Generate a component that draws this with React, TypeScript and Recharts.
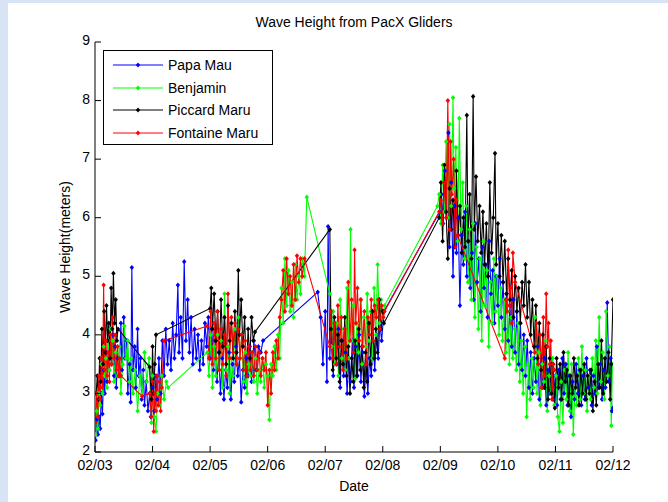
import { LineChart, Line, XAxis, YAxis } from "recharts";

// day offsets from 02/03 and wave height (m) for each glider
const dateLabels = ["02/03", "02/04", "02/05", "02/06", "02/07", "02/08", "02/09", "02/10", "02/11", "02/12"];
const heightTicks = [2, 3, 4, 5, 6, 7, 8, 9];

const papaMau: [number, number][] = [
  [0.01, 2.2], [0.03, 2.55], [0.05, 2.3], [0.07, 2.6], [0.09, 2.4], [0.11, 3.0], [0.13, 2.65], [0.15, 3.4], [0.17, 3.0], [0.19, 3.7],
  [0.21, 3.2], [0.23, 3.9], [0.25, 3.4], [0.27, 4.1], [0.29, 3.5], [0.31, 4.0], [0.33, 3.3], [0.35, 3.8], [0.37, 3.1], [0.39, 3.6],
  [0.42, 3.3], [0.45, 4.2], [0.47, 3.4], [0.5, 4.3], [0.52, 3.6], [0.55, 3.9], [0.57, 3.0], [0.6, 3.5], [0.62, 2.85], [0.64, 5.15],
  [0.66, 3.4], [0.69, 3.8], [0.71, 3.1], [0.74, 4.1], [0.76, 3.3], [0.79, 3.6], [0.81, 2.9], [0.84, 3.4], [0.86, 2.8], [0.89, 3.2],
  [0.92, 2.7], [0.95, 3.0], [0.97, 2.6], [1.0, 3.1], [1.03, 2.7], [1.06, 3.3], [1.08, 2.9], [1.11, 3.6], [1.14, 3.0], [1.17, 3.9],
  [1.2, 3.3], [1.23, 4.1], [1.26, 3.5], [1.29, 3.9], [1.32, 3.4], [1.35, 4.2], [1.38, 3.6], [1.41, 4.0], [1.44, 4.85], [1.46, 3.7],
  [1.49, 4.3], [1.52, 3.6], [1.55, 5.25], [1.58, 3.9], [1.61, 4.6], [1.64, 3.7], [1.67, 4.3], [1.7, 3.5], [1.73, 4.1], [1.76, 3.6],
  [1.79, 4.0], [1.82, 3.4], [1.85, 3.9], [1.88, 3.5], [1.91, 4.2], [1.94, 3.8], [1.97, 4.3], [2.0, 3.6], [2.03, 4.1], [2.06, 3.4],
  [2.09, 3.9], [2.12, 3.2], [2.15, 3.7], [2.18, 3.0], [2.21, 3.6], [2.24, 2.9], [2.27, 3.4], [2.3, 3.1], [2.33, 3.7], [2.36, 2.9],
  [2.39, 3.5], [2.42, 3.2], [2.45, 3.8], [2.48, 3.3], [2.51, 3.6], [2.54, 2.85], [2.57, 3.4], [2.6, 3.1], [2.63, 3.6], [2.66, 3.3],
  [2.69, 3.8], [2.72, 3.2], [2.76, 3.9], [2.8, 3.4], [2.84, 3.8], [2.88, 3.7], [2.92, 3.9], [3.87, 4.73], [3.92, 4.3], [3.96, 3.5],
  [4.0, 4.4], [4.03, 3.2], [4.05, 5.85], [4.08, 3.6], [4.11, 4.4], [4.14, 3.3], [4.17, 4.2], [4.2, 3.5], [4.23, 4.1], [4.26, 3.1],
  [4.29, 3.9], [4.32, 3.3], [4.35, 3.7], [4.38, 3.0], [4.41, 3.6], [4.44, 3.2], [4.47, 3.9], [4.5, 3.1], [4.53, 3.8], [4.56, 3.3],
  [4.59, 4.0], [4.62, 3.2], [4.65, 3.7], [4.68, 2.95], [4.71, 3.5], [4.74, 3.0], [4.77, 3.6], [4.8, 3.3], [4.83, 3.9], [4.86, 3.4],
  [4.89, 4.0], [4.92, 3.6], [4.95, 4.2], [4.98, 3.9], [5.02, 4.4], [5.99, 6.1], [6.02, 6.4], [6.05, 5.9], [6.08, 6.8], [6.11, 6.0],
  [6.14, 7.45], [6.16, 5.5], [6.19, 6.6], [6.22, 5.0], [6.25, 6.2], [6.28, 5.4], [6.31, 6.0], [6.34, 4.5], [6.37, 5.7], [6.4, 5.2],
  [6.43, 6.1], [6.46, 5.0], [6.49, 5.6], [6.52, 4.8], [6.55, 5.4], [6.58, 4.6], [6.61, 5.9], [6.64, 4.9], [6.67, 5.3], [6.7, 4.4],
  [6.73, 5.5], [6.76, 4.8], [6.79, 5.2], [6.82, 4.3], [6.85, 5.6], [6.88, 4.7], [6.91, 5.1], [6.94, 4.2], [6.97, 5.0], [7.0, 4.5],
  [7.03, 5.3], [7.06, 4.3], [7.09, 4.9], [7.12, 4.1], [7.15, 4.7], [7.18, 3.9], [7.21, 4.5], [7.24, 3.8], [7.27, 4.6], [7.3, 3.7],
  [7.33, 4.4], [7.36, 3.5], [7.39, 4.2], [7.42, 3.4], [7.45, 4.0], [7.48, 3.3], [7.51, 3.9], [7.54, 3.1], [7.57, 3.7], [7.6, 3.0],
  [7.63, 3.6], [7.66, 3.2], [7.69, 3.8], [7.72, 2.9], [7.75, 3.5], [7.78, 3.1], [7.81, 3.6], [7.84, 2.8], [7.87, 3.4], [7.9, 3.0],
  [7.93, 3.5], [7.96, 2.9], [8.0, 3.3], [8.03, 2.8], [8.06, 3.4], [8.09, 2.9], [8.12, 3.6], [8.15, 3.0], [8.18, 3.5], [8.21, 2.8],
  [8.24, 3.3], [8.27, 2.6], [8.3, 3.2], [8.33, 2.9], [8.36, 3.5], [8.39, 3.0], [8.42, 3.4], [8.45, 2.8], [8.48, 3.3], [8.51, 2.9],
  [8.54, 3.6], [8.57, 3.1], [8.6, 3.4], [8.63, 2.8], [8.66, 3.3], [8.69, 3.0], [8.72, 3.8], [8.75, 3.1], [8.78, 3.5], [8.81, 2.9],
  [8.84, 3.4], [8.87, 3.1], [8.9, 4.55], [8.93, 3.2], [8.96, 3.6], [8.98, 2.7], [9.0, 2.75],
];

const benjamin: [number, number][] = [
  [0.01, 2.3], [0.03, 2.7], [0.05, 2.4], [0.07, 3.0], [0.09, 2.8], [0.11, 3.5], [0.13, 3.0], [0.15, 3.8], [0.17, 3.3], [0.19, 3.6],
  [0.21, 3.1], [0.23, 3.9], [0.25, 3.4], [0.27, 4.1], [0.29, 3.5], [0.31, 3.9], [0.33, 3.2], [0.36, 3.7], [0.39, 3.3], [0.42, 3.8],
  [0.45, 3.0], [0.48, 3.5], [0.51, 4.15], [0.54, 3.6], [0.57, 3.9], [0.6, 3.2], [0.63, 3.6], [0.66, 3.0], [0.7, 3.4], [0.74, 2.7],
  [0.78, 3.3], [0.82, 3.0], [0.86, 3.7], [0.9, 3.2], [0.94, 3.6], [0.98, 2.5], [1.0, 3.3], [1.03, 2.6], [1.06, 2.35], [1.09, 3.0],
  [1.12, 2.8], [1.16, 3.3], [1.2, 2.9], [1.24, 3.2], [1.27, 3.1], [1.95, 3.7], [1.98, 3.3], [2.01, 4.0], [2.04, 3.1], [2.07, 3.8],
  [2.1, 3.3], [2.13, 4.0], [2.16, 3.4], [2.19, 3.9], [2.22, 3.1], [2.25, 4.7], [2.28, 3.4], [2.31, 3.8], [2.34, 3.0], [2.37, 3.6],
  [2.4, 3.3], [2.43, 4.1], [2.46, 3.5], [2.49, 4.3], [2.52, 3.6], [2.55, 4.0], [2.58, 3.2], [2.61, 3.7], [2.64, 3.0], [2.67, 3.5],
  [2.7, 3.3], [2.73, 3.7], [2.76, 3.2], [2.79, 3.6], [2.82, 3.0], [2.85, 3.4], [2.88, 3.2], [2.91, 3.6], [2.94, 3.1], [2.97, 3.5],
  [3.0, 3.3], [3.03, 2.55], [3.06, 3.5], [3.09, 3.3], [3.12, 3.8], [3.15, 3.4], [3.18, 4.0], [3.21, 3.6], [3.24, 4.8], [3.27, 4.2],
  [3.3, 5.3], [3.33, 4.5], [3.36, 5.1], [3.39, 4.4], [3.42, 4.9], [3.45, 4.3], [3.48, 5.2], [3.51, 4.6], [3.54, 5.0], [3.57, 4.7],
  [3.6, 5.3], [3.64, 5.0], [3.68, 6.35], [4.08, 4.7], [4.11, 3.8], [4.14, 4.4], [4.17, 3.5], [4.2, 4.2], [4.23, 3.3], [4.26, 4.6],
  [4.29, 3.6], [4.32, 4.1], [4.35, 3.4], [4.38, 4.8], [4.41, 3.6], [4.44, 5.8], [4.46, 3.9], [4.49, 4.5], [4.52, 3.25], [4.55, 4.2],
  [4.58, 3.7], [4.61, 4.6], [4.64, 3.5], [4.67, 4.3], [4.7, 3.8], [4.73, 4.7], [4.76, 3.9], [4.79, 4.4], [4.82, 3.6], [4.85, 4.8],
  [4.88, 4.0], [4.91, 5.2], [4.94, 4.2], [4.97, 4.6], [5.0, 4.3], [5.03, 4.5], [5.95, 6.2], [5.98, 6.4], [6.01, 5.9], [6.04, 6.9],
  [6.07, 6.1], [6.1, 7.3], [6.13, 6.0], [6.16, 7.6], [6.19, 6.2], [6.22, 8.05], [6.24, 6.5], [6.27, 7.2], [6.3, 5.6], [6.33, 7.7],
  [6.36, 5.8], [6.39, 6.6], [6.42, 5.3], [6.45, 6.2], [6.48, 4.9], [6.51, 5.8], [6.54, 4.6], [6.57, 5.9], [6.6, 4.3], [6.63, 5.5],
  [6.66, 4.1], [6.69, 5.3], [6.72, 3.9], [6.75, 5.6], [6.78, 4.5], [6.81, 5.1], [6.84, 3.8], [6.87, 4.9], [6.9, 4.2], [6.93, 5.3],
  [6.96, 4.4], [6.99, 5.0], [7.02, 4.0], [7.05, 4.8], [7.08, 3.9], [7.11, 4.6], [7.14, 3.7], [7.17, 4.4], [7.2, 3.5], [7.23, 4.3],
  [7.26, 3.6], [7.29, 4.1], [7.32, 3.4], [7.35, 4.2], [7.38, 3.2], [7.41, 3.9], [7.44, 3.0], [7.47, 3.8], [7.5, 2.6], [7.53, 3.5],
  [7.56, 2.9], [7.59, 3.6], [7.62, 3.1], [7.65, 4.3], [7.68, 3.0], [7.71, 3.7], [7.74, 2.8], [7.77, 3.5], [7.8, 3.2], [7.83, 3.9],
  [7.86, 2.7], [7.89, 3.3], [7.92, 3.0], [7.95, 3.6], [7.98, 2.8], [8.01, 3.3], [8.04, 2.6], [8.07, 2.35], [8.1, 3.2], [8.13, 2.5],
  [8.16, 3.4], [8.19, 2.9], [8.22, 3.7], [8.25, 2.7], [8.28, 3.5], [8.31, 2.3], [8.34, 3.1], [8.37, 2.8], [8.4, 3.6], [8.43, 2.9],
  [8.46, 3.8], [8.49, 3.0], [8.52, 3.4], [8.55, 2.7], [8.58, 3.3], [8.61, 2.9], [8.64, 3.6], [8.67, 3.1], [8.7, 3.9], [8.73, 3.0],
  [8.76, 4.3], [8.79, 3.2], [8.82, 3.7], [8.85, 2.9], [8.88, 4.4], [8.91, 3.3], [8.94, 3.8], [8.97, 2.45], [8.99, 3.5],
];

const piccardMaru: [number, number][] = [
  [0.02, 3.0], [0.04, 3.3], [0.06, 2.9], [0.08, 3.6], [0.1, 3.2], [0.12, 4.1], [0.14, 3.5], [0.16, 4.4], [0.18, 3.7], [0.2, 4.5],
  [0.22, 3.9], [0.24, 4.2], [0.26, 3.6], [0.28, 4.8], [0.3, 4.1], [0.32, 5.05], [0.34, 4.2], [0.36, 4.6], [0.38, 3.9], [0.4, 4.1],
  [0.95, 3.45], [0.98, 2.9], [1.0, 3.8], [1.02, 3.0], [1.04, 3.5], [1.06, 4.0], [2.0, 4.45], [2.02, 4.8], [2.04, 4.1], [2.07, 4.7],
  [2.1, 3.9], [2.13, 4.4], [2.16, 3.7], [2.19, 4.6], [2.22, 3.8], [2.25, 4.3], [2.28, 3.5], [2.31, 4.5], [2.34, 3.9], [2.37, 4.2],
  [2.4, 3.6], [2.43, 4.4], [2.46, 3.7], [2.49, 5.1], [2.51, 4.0], [2.54, 4.6], [2.57, 3.8], [2.6, 4.3], [2.63, 3.3], [2.66, 4.1],
  [2.69, 3.6], [2.72, 4.3], [2.75, 3.9], [2.78, 4.05], [4.08, 5.8], [4.1, 4.1], [4.13, 3.4], [4.16, 4.3], [4.19, 3.6], [4.22, 4.0],
  [4.25, 3.2], [4.28, 3.9], [4.31, 3.5], [4.34, 4.3], [4.37, 3.3], [4.4, 3.8], [4.43, 3.0], [4.46, 3.6], [4.49, 3.2], [4.52, 3.9],
  [4.55, 3.3], [4.58, 4.1], [4.61, 3.4], [4.64, 3.8], [4.67, 3.1], [4.7, 3.7], [4.73, 3.2], [4.76, 4.2], [4.79, 3.5], [4.82, 4.4],
  [4.85, 3.6], [4.88, 4.1], [4.91, 3.7], [4.94, 4.6], [4.97, 4.1], [5.0, 4.4], [5.02, 4.2], [5.98, 6.0], [6.01, 6.6], [6.04, 5.6],
  [6.07, 6.9], [6.1, 6.1], [6.13, 5.3], [6.16, 6.5], [6.19, 5.8], [6.22, 6.3], [6.25, 5.5], [6.28, 6.8], [6.31, 5.7], [6.34, 6.2],
  [6.37, 5.4], [6.4, 6.0], [6.43, 5.5], [6.46, 7.75], [6.48, 5.6], [6.51, 6.4], [6.54, 5.3], [6.57, 8.07], [6.59, 5.8], [6.62, 6.7],
  [6.65, 5.6], [6.68, 6.2], [6.71, 5.4], [6.74, 6.1], [6.77, 5.2], [6.8, 5.9], [6.83, 5.0], [6.86, 6.6], [6.89, 5.4], [6.92, 6.0],
  [6.95, 7.1], [6.97, 5.2], [7.0, 5.9], [7.03, 5.0], [7.06, 5.7], [7.09, 4.9], [7.12, 5.6], [7.15, 4.7], [7.18, 5.3], [7.21, 4.6],
  [7.24, 5.1], [7.27, 4.3], [7.3, 5.0], [7.33, 4.4], [7.36, 4.8], [7.39, 4.2], [7.42, 4.9], [7.45, 4.5], [7.48, 5.2], [7.51, 4.3],
  [7.54, 4.9], [7.57, 4.0], [7.6, 4.6], [7.63, 3.8], [7.66, 4.5], [7.69, 3.6], [7.72, 4.2], [7.75, 3.4], [7.78, 4.0], [7.81, 3.1],
  [7.84, 3.8], [7.87, 2.9], [7.9, 3.6], [7.93, 3.0], [7.96, 3.5], [7.99, 2.75], [8.02, 3.6], [8.05, 3.1], [8.08, 3.5], [8.11, 2.9],
  [8.14, 3.7], [8.17, 3.2], [8.2, 3.4], [8.23, 2.8], [8.26, 3.3], [8.29, 3.0], [8.32, 3.6], [8.35, 3.1], [8.38, 3.3], [8.41, 2.8],
  [8.44, 3.4], [8.47, 3.0], [8.5, 3.5], [8.53, 2.9], [8.56, 3.3], [8.59, 3.0], [8.62, 3.4], [8.65, 2.7], [8.68, 3.2], [8.71, 2.8],
  [8.74, 3.5], [8.77, 3.1], [8.8, 3.9], [8.83, 3.0], [8.86, 3.6], [8.89, 3.2], [8.92, 3.7], [8.95, 2.9], [8.97, 3.5], [9.0, 4.6],
];

const fontaineMaru: [number, number][] = [
  [0.01, 2.5], [0.03, 3.0], [0.05, 2.6], [0.07, 3.3], [0.09, 2.9], [0.11, 3.6], [0.13, 3.1], [0.15, 4.85], [0.17, 3.4], [0.19, 3.9],
  [0.21, 3.3], [0.23, 3.7], [0.25, 3.2], [0.27, 4.0], [0.29, 3.5], [0.31, 4.3], [0.33, 3.6], [0.35, 4.0], [0.37, 3.4], [0.39, 3.8],
  [0.41, 3.3], [0.43, 3.6], [0.45, 3.3], [0.82, 2.95], [0.95, 3.0], [0.98, 2.6], [1.0, 3.2], [1.02, 2.35], [1.04, 3.0], [1.06, 2.7],
  [1.08, 3.3], [1.1, 2.8], [1.12, 3.2], [1.14, 2.7], [1.16, 3.1], [1.2, 3.9], [1.95, 4.15], [1.98, 3.6], [2.01, 4.4], [2.04, 3.5],
  [2.07, 4.2], [2.1, 3.6], [2.13, 4.4], [2.16, 3.4], [2.19, 4.1], [2.22, 3.5], [2.25, 4.0], [2.28, 3.3], [2.31, 4.7], [2.34, 3.6],
  [2.37, 4.3], [2.4, 3.7], [2.43, 4.2], [2.46, 3.5], [2.49, 4.1], [2.52, 3.6], [2.55, 4.0], [2.58, 3.4], [2.61, 3.9], [2.64, 3.3],
  [2.67, 3.8], [2.7, 3.4], [2.73, 3.7], [2.76, 3.3], [2.79, 3.8], [2.82, 3.4], [2.85, 3.7], [2.88, 3.3], [2.91, 3.6], [2.94, 3.4],
  [2.97, 3.7], [3.0, 2.8], [3.03, 3.4], [3.06, 3.0], [3.09, 3.7], [3.12, 3.4], [3.15, 3.9], [3.18, 3.6], [3.21, 4.3], [3.24, 4.6],
  [3.27, 5.1], [3.3, 4.4], [3.33, 5.3], [3.36, 4.7], [3.39, 5.0], [3.42, 4.5], [3.45, 5.2], [3.48, 4.6], [3.51, 5.35], [3.54, 4.9],
  [3.57, 5.3], [3.6, 5.0], [3.64, 5.3], [4.08, 3.8], [4.1, 4.4], [4.13, 3.6], [4.16, 4.2], [4.19, 3.5], [4.22, 4.5], [4.25, 3.8],
  [4.28, 4.3], [4.31, 3.4], [4.34, 4.1], [4.37, 3.6], [4.4, 4.9], [4.43, 3.9], [4.46, 4.6], [4.49, 3.7], [4.51, 5.45], [4.53, 4.2],
  [4.56, 4.8], [4.59, 3.9], [4.62, 4.6], [4.65, 3.8], [4.68, 4.4], [4.71, 3.5], [4.74, 4.3], [4.77, 4.0], [4.8, 4.6], [4.83, 3.9],
  [4.86, 4.5], [4.89, 4.3], [4.92, 4.6], [4.95, 4.1], [4.98, 4.5], [5.01, 4.3], [5.03, 4.4], [5.98, 6.1], [6.01, 6.3], [6.04, 5.9],
  [6.07, 6.6], [6.1, 6.0], [6.13, 8.0], [6.16, 5.8], [6.18, 7.3], [6.2, 6.4], [6.23, 7.0], [6.26, 5.5], [6.28, 6.3], [6.3, 5.7],
  [7.12, 3.6], [7.14, 4.6], [7.16, 4.4], [7.18, 5.45], [7.2, 4.5], [7.22, 4.8], [7.24, 4.2], [7.26, 5.4], [7.3, 4.9], [7.64, 3.7],
  [7.67, 4.2], [7.7, 3.5], [7.73, 4.0], [7.76, 3.1], [7.79, 4.3], [7.81, 3.3], [7.84, 4.7], [7.86, 3.8], [7.88, 4.2], [7.9, 3.5],
  [7.92, 3.9], [7.94, 2.9], [7.96, 3.5], [7.98, 3.4],
];

const series = [
  { name: "Papa Mau", color: "#0000ff", pairs: papaMau },
  { name: "Benjamin", color: "#00ff00", pairs: benjamin },
  { name: "Piccard Maru", color: "#000000", pairs: piccardMaru },
  { name: "Fontaine Maru", color: "#ff0000", pairs: fontaineMaru },
];

const toPoints = (pairs: [number, number][]) => pairs.map(([d, h]) => ({ d, h }));

const FONT = "'Liberation Sans', Arial, sans-serif";
const PLOT_LEFT = 95;
const PLOT_BOTTOM = 452;

// matlab style ticks: short marks pointing into the axes
const XTick = (props: any) => {
  const { x, payload } = props;
  return (
    <g>
      <line x1={x} x2={x} y1={PLOT_BOTTOM} y2={PLOT_BOTTOM - 6} stroke="#000" />
      <text x={x} y={PLOT_BOTTOM + 18} textAnchor="middle" fontSize={14} fontFamily={FONT} fill="#000">
        {dateLabels[payload.value]}
      </text>
    </g>
  );
};

const YTick = (props: any) => {
  const { y, payload } = props;
  return (
    <g>
      <line x1={PLOT_LEFT} x2={PLOT_LEFT + 6} y1={y} y2={y} stroke="#000" />
      <text x={PLOT_LEFT - 5} y={y + 3} textAnchor="end" fontSize={14} fontFamily={FONT} fill="#000">
        {payload.value}
      </text>
    </g>
  );
};

// small diamond marker, like matlab's 'd' marker
const Diamond = (props: any) => {
  const { cx, cy, stroke } = props;
  if (cx == null || cy == null) return null;
  return <path d={`M${cx},${cy - 2.6}L${cx + 2.2},${cy}L${cx},${cy + 2.6}L${cx - 2.2},${cy}Z`} fill={stroke} />;
};

const LegendBox = () => (
  <div
    style={{
      position: "absolute",
      left: 103,
      top: 50,
      width: 170,
      height: 95,
      border: "1px solid #000",
      background: "#fff",
      fontFamily: FONT,
      fontSize: 14,
      paddingTop: 3,
      boxSizing: "border-box",
    }}
  >
    {series.map((s) => (
      <div key={s.name} style={{ display: "flex", alignItems: "center", height: 22.5 }}>
        <svg width={55} height={10} style={{ marginLeft: 9 }}>
          <line x1={0} x2={50} y1={5} y2={5} stroke={s.color} strokeWidth={1} />
          <path d="M25,2.4L27.2,5L25,7.6L22.8,5Z" fill={s.color} />
        </svg>
        <span style={{ color: "#000" }}>{s.name}</span>
      </div>
    ))}
  </div>
);

export default function App() {
  return (
    <div style={{ position: "absolute", left: 0, top: 0, width: 668, height: 502, background: "#fff", overflow: "hidden" }}>
      <LineChart width={668} height={502} margin={{ top: 42, right: 55, left: 0, bottom: 0 }}>
        <XAxis
          type="number"
          dataKey="d"
          domain={[0, 9]}
          ticks={[0, 1, 2, 3, 4, 5, 6, 7, 8, 9]}
          allowDataOverflow
          height={50}
          axisLine={{ stroke: "#000" }}
          tickLine={false}
          tick={<XTick />}
          interval={0}
        />
        <YAxis
          type="number"
          domain={[2, 9]}
          ticks={heightTicks}
          allowDataOverflow
          width={95}
          axisLine={{ stroke: "#000" }}
          tickLine={false}
          tick={<YTick />}
          interval={0}
        />
        {series.map((s) => (
          <Line
            key={s.name}
            data={toPoints(s.pairs)}
            dataKey="h"
            name={s.name}
            stroke={s.color}
            strokeWidth={1.1}
            dot={<Diamond />}
            isAnimationActive={false}
          />
        ))}
        <text x={354} y={27} textAnchor="middle" fontSize={14} fontFamily={FONT} fill="#000">
          Wave Height from PacX Gliders
        </text>
        <text x={354} y={491} textAnchor="middle" fontSize={14} fontFamily={FONT} fill="#000">
          Date
        </text>
        <text
          x={70}
          y={247}
          textAnchor="middle"
          fontSize={14}
          fontFamily={FONT}
          fill="#000"
          transform="rotate(-90 70 247)"
        >
          Wave Height(meters)
        </text>
      </LineChart>
      <LegendBox />
      {/* window frame strips along the left and top edges */}
      <div style={{ position: "absolute", left: 0, top: 0, width: 8, height: 502, background: "#d6e4f6" }} />
      <div style={{ position: "absolute", left: 0, top: 0, width: 668, height: 3, background: "#d6e4f6" }} />
    </div>
  );
}
